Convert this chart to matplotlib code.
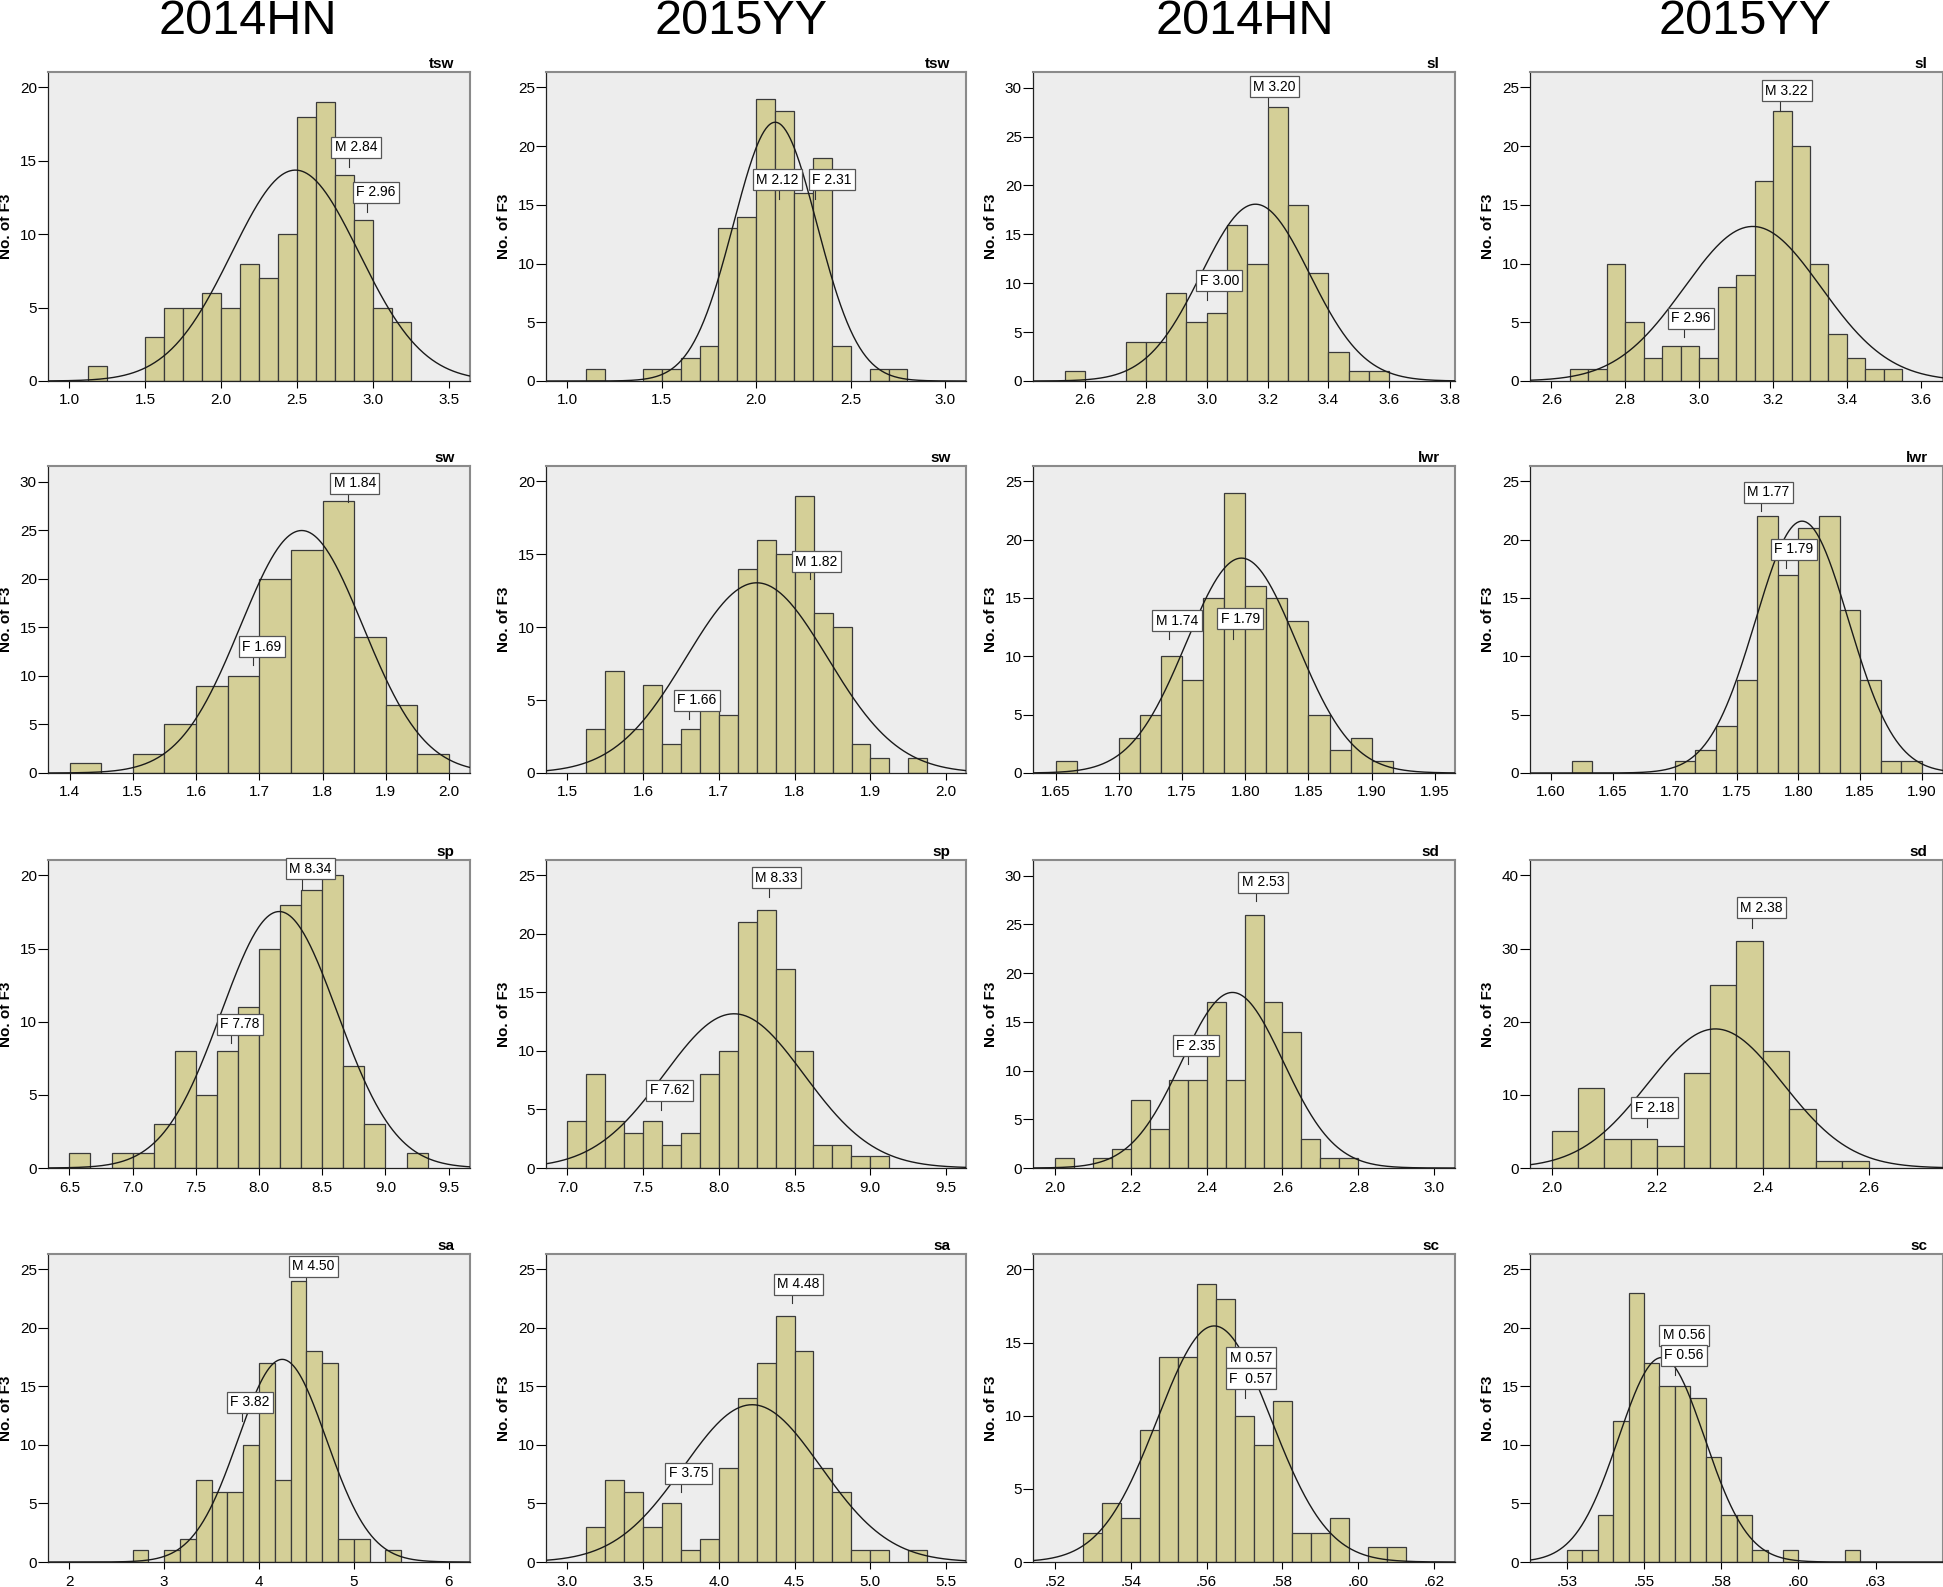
import numpy as np
import matplotlib.pyplot as plt

plt.rcParams['font.family'] = ['Liberation Sans', 'DejaVu Sans']

# ---------------- data ----------------
sites = ['2014HN', '2015YY', '2014HN', '2015YY']
titles = ['tsw', 'tsw', 'sl', 'sl',
          'sw', 'sw', 'lwr', 'lwr',
          'sp', 'sp', 'sd', 'sd',
          'sa', 'sa', 'sc', 'sc']

# bin counts (No. of F3), one list per panel
hn_tsw = [1, 0, 0, 3, 5, 5, 6, 5, 8, 7, 10, 18, 19, 14, 11, 5, 4]
yy_tsw = [1, 0, 0, 1, 1, 2, 3, 13, 14, 24, 23, 16, 19, 3, 0, 1, 1]
hn_sl = [1, 0, 0, 4, 4, 9, 6, 7, 16, 12, 28, 18, 11, 3, 1, 1]
yy_sl = [1, 1, 10, 5, 2, 3, 3, 2, 8, 9, 17, 23, 20, 10, 4, 2, 1, 1]
hn_sw = [1, 0, 2, 5, 9, 10, 20, 23, 28, 14, 7, 2]
yy_sw = [3, 7, 3, 6, 2, 3, 5, 4, 14, 16, 15, 19, 11, 10, 2, 1, 0, 1]
hn_lwr = [1, 0, 0, 3, 5, 10, 8, 15, 24, 16, 15, 13, 5, 2, 3, 1]
yy_lwr = [1, 0, 0, 0, 0, 1, 2, 4, 8, 22, 17, 21, 22, 14, 8, 1, 1]
hn_sp = [1, 0, 1, 1, 3, 8, 5, 8, 11, 15, 18, 19, 20, 7, 3, 0, 1]
yy_sp = [4, 8, 4, 3, 4, 2, 3, 8, 10, 21, 22, 17, 10, 2, 2, 1, 1]
hn_sd = [1, 0, 1, 2, 7, 4, 9, 9, 17, 9, 26, 17, 14, 3, 1, 1]
yy_sd = [5, 11, 4, 4, 3, 13, 25, 31, 16, 8, 1, 1]
hn_sa = [1, 0, 1, 2, 7, 6, 6, 10, 17, 7, 24, 18, 17, 2, 2, 0, 1]
yy_sa = [3, 7, 6, 3, 5, 1, 2, 8, 14, 17, 21, 18, 8, 6, 1, 1, 0, 1]
hn_sc = [2, 4, 3, 9, 14, 14, 19, 18, 10, 8, 11, 2, 2, 3, 0, 1, 1]
yy_sc = [1, 1, 4, 12, 23, 17, 15, 15, 14, 9, 4, 4, 1, 0, 1, 0, 0, 0, 1]

counts = [hn_tsw, yy_tsw, hn_sl, yy_sl,
          hn_sw, yy_sw, hn_lwr, yy_lwr,
          hn_sp, yy_sp, hn_sd, yy_sd,
          hn_sa, yy_sa, hn_sc, yy_sc]

bin_start = [1.125, 1.1, 2.5333, 2.65,
             1.40, 1.525, 1.65, 1.61667,
             6.5, 7.0, 2.0, 2.0,
             2.66667, 3.125, 0.5275, 0.525]
bin_width = [0.125, 0.1, 0.06667, 0.05,
             0.05, 0.025, 0.016667, 0.016667,
             0.16667, 0.125, 0.05, 0.05,
             0.16667, 0.125, 0.005, 0.005]

# normal curve parameters (mean, sd)
fit_mean = [2.49, 2.10, 3.16, 3.145,
            1.767, 1.75, 1.797, 1.803,
            8.16, 8.10, 2.468, 2.31,
            4.245, 4.22, 0.562, 0.5557]
fit_sd = [0.42, 0.221, 0.178, 0.185,
          0.0967, 0.0933, 0.0437, 0.0376,
          0.459, 0.462, 0.134, 0.128,
          0.465, 0.453, 0.01496, 0.01394]

# parent values marked on each panel
male_mean = [2.84, 2.12, 3.20, 3.22,
             1.84, 1.82, 1.74, 1.77,
             8.34, 8.33, 2.53, 2.38,
             4.50, 4.48, 0.57, 0.56]
female_mean = [2.96, 2.31, 3.00, 2.96,
               1.69, 1.66, 1.79, 1.79,
               7.78, 7.62, 2.35, 2.18,
               3.82, 3.75, 0.57, 0.56]
male_labels = ['M 2.84', 'M 2.12', 'M 3.20', 'M 3.22',
               'M 1.84', 'M 1.82', 'M 1.74', 'M 1.77',
               'M 8.34', 'M 8.33', 'M 2.53', 'M 2.38',
               'M 4.50', 'M 4.48', 'M 0.57', 'M 0.56']
female_labels = ['F 2.96', 'F 2.31', 'F 3.00', 'F 2.96',
                 'F 1.69', 'F 1.66', 'F 1.79', 'F 1.79',
                 'F 7.78', 'F 7.62', 'F 2.35', 'F 2.18',
                 'F 3.82', 'F 3.75', 'F  0.57', 'F 0.56']

# ---------------- layout ----------------
xlims = [(0.86, 3.64), (0.887, 3.11), (2.429, 3.816), (2.542, 3.66),
         (1.366, 2.033), (1.472, 2.026), (1.632, 1.966), (1.583, 1.917),
         (6.331, 9.669), (6.859, 9.632), (1.942, 3.055), (1.959, 2.741),
         (1.775, 6.225), (2.859, 5.632), (0.5142, 0.6255), (0.5131, 0.6468)]
ytop = [21.05, 26.3, 31.6, 26.3,
        31.6, 21.05, 26.3, 26.3,
        21.05, 26.3, 31.6, 42.1,
        26.3, 26.3, 21.05, 26.3]
ytick_max = [20, 25, 30, 25, 30, 20, 25, 25, 20, 25, 30, 40, 25, 25, 20, 25]
ytick_step = [5, 5, 5, 5, 5, 5, 5, 5, 5, 5, 5, 10, 5, 5, 5, 5]

xtick_vals = [
    [1.0, 1.5, 2.0, 2.5, 3.0, 3.5], [1.0, 1.5, 2.0, 2.5, 3.0],
    [2.6, 2.8, 3.0, 3.2, 3.4, 3.6, 3.8], [2.6, 2.8, 3.0, 3.2, 3.4, 3.6],
    [1.4, 1.5, 1.6, 1.7, 1.8, 1.9, 2.0], [1.5, 1.6, 1.7, 1.8, 1.9, 2.0],
    [1.65, 1.70, 1.75, 1.80, 1.85, 1.90, 1.95], [1.60, 1.65, 1.70, 1.75, 1.80, 1.85, 1.90],
    [6.5, 7.0, 7.5, 8.0, 8.5, 9.0, 9.5], [7.0, 7.5, 8.0, 8.5, 9.0, 9.5],
    [2.0, 2.2, 2.4, 2.6, 2.8, 3.0], [2.0, 2.2, 2.4, 2.6],
    [2, 3, 4, 5, 6], [3.0, 3.5, 4.0, 4.5, 5.0, 5.5],
    [0.52, 0.54, 0.56, 0.58, 0.60, 0.62], [0.525, 0.55, 0.575, 0.60, 0.625],
]
xtick_text = [
    ['1.0', '1.5', '2.0', '2.5', '3.0', '3.5'], ['1.0', '1.5', '2.0', '2.5', '3.0'],
    ['2.6', '2.8', '3.0', '3.2', '3.4', '3.6', '3.8'], ['2.6', '2.8', '3.0', '3.2', '3.4', '3.6'],
    ['1.4', '1.5', '1.6', '1.7', '1.8', '1.9', '2.0'], ['1.5', '1.6', '1.7', '1.8', '1.9', '2.0'],
    ['1.65', '1.70', '1.75', '1.80', '1.85', '1.90', '1.95'],
    ['1.60', '1.65', '1.70', '1.75', '1.80', '1.85', '1.90'],
    ['6.5', '7.0', '7.5', '8.0', '8.5', '9.0', '9.5'], ['7.0', '7.5', '8.0', '8.5', '9.0', '9.5'],
    ['2.0', '2.2', '2.4', '2.6', '2.8', '3.0'], ['2.0', '2.2', '2.4', '2.6'],
    ['2', '3', '4', '5', '6'], ['3.0', '3.5', '4.0', '4.5', '5.0', '5.5'],
    ['.52', '.54', '.56', '.58', '.60', '.62'], ['.53', '.55', '.58', '.60', '.63'],
]

# label boxes: (line tip y, box centre x, box bottom y)
male_ann = [(14.6, 2.89, 15.45), (15.5, 2.113, 16.55), (28.1, 3.223, 29.4), (23.0, 3.237, 24.1),
            (27.9, 1.851, 29.1), (13.27, 1.829, 14.0), (11.46, 1.746, 12.46), (22.47, 1.7756, 23.46),
            (19.1, 8.407, 19.98), (23.1, 8.38, 24.2), (27.4, 2.549, 28.6), (32.85, 2.397, 34.6),
            (24.0, 4.576, 24.66), (22.1, 4.527, 23.1), (12.04, 0.5717, 13.47), (17.04, 0.563, 18.77)]
female_ann = [(11.54, 3.02, 12.38), (15.5, 2.40, 16.55), (8.26, 3.041, 9.56), (3.75, 2.978, 4.75),
              (11.1, 1.704, 12.3), (3.7, 1.671, 4.5), (11.5, 1.796, 12.6), (17.58, 1.7965, 18.57),
              (8.53, 7.85, 9.33), (4.98, 7.675, 6.06), (10.65, 2.372, 11.84), (5.55, 2.195, 7.28),
              (12.0, 3.907, 13.05), (5.94, 3.80, 6.97), (11.19, 0.5717, 12.04), (15.98, 0.563, 17.04)]

W, H = 1943, 1587
col_left = [48, 546, 1033, 1530]
col_right = [470, 966, 1455, 1943]
row_top = [72, 466, 860, 1254]
row_bottom = [381, 773, 1168, 1562]
header_x = [248, 741, 1245, 1745]

BAR = '#D4CF97'

fig = plt.figure(figsize=(W / 100, H / 100), dpi=100)

for c, s in enumerate(sites):
    fig.text(header_x[c] / W, 1 - 21 / H, s, ha='center', va='center', fontsize=35)

for i in range(16):
    r, c = divmod(i, 4)
    ax = fig.add_axes([col_left[c] / W, 1 - row_bottom[r] / H,
                       (col_right[c] - col_left[c]) / W, (row_bottom[r] - row_top[r]) / H])
    ax.set_facecolor('#EDEDED')

    cnt = np.array(counts[i])
    edges = bin_start[i] + bin_width[i] * np.arange(len(cnt))
    keep = cnt > 0
    ax.bar(edges[keep], cnt[keep], width=bin_width[i], align='edge',
           color=BAR, edgecolor='#3a3a3a', linewidth=0.9, zorder=2)

    # normal curve scaled to counts
    x = np.linspace(xlims[i][0], xlims[i][1], 400)
    n = cnt.sum()
    y = n * bin_width[i] / (fit_sd[i] * np.sqrt(2 * np.pi)) * \
        np.exp(-0.5 * ((x - fit_mean[i]) / fit_sd[i]) ** 2)
    ax.plot(x, y, color='#1a1a1a', lw=1.0, zorder=3)

    for val, lab, (tip, bx, by) in [(male_mean[i], male_labels[i], male_ann[i]),
                                    (female_mean[i], female_labels[i], female_ann[i])]:
        ax.plot([val, val], [tip, by], color='#333333', lw=0.8, zorder=4)
        ax.text(bx, by, lab, ha='center', va='bottom', fontsize=10, zorder=5,
                bbox=dict(boxstyle='square,pad=0.25', fc='white', ec='#555555', lw=0.9))

    ax.set_xlim(xlims[i])
    ax.set_ylim(0, ytop[i])
    ax.set_yticks(np.arange(0, ytick_max[i] + 1, ytick_step[i]))
    ax.set_xticks(xtick_vals[i])
    ax.set_xticklabels(xtick_text[i])
    ax.tick_params(axis='y', direction='out', length=7, width=0.8, pad=1, labelsize=11)
    ax.tick_params(axis='x', direction='out', length=5, width=0.8, pad=4, labelsize=11)
    for sp in ['top', 'right']:
        ax.spines[sp].set_color('#8a8a8a')
        ax.spines[sp].set_linewidth(1.5)
    for sp in ['left', 'bottom']:
        ax.spines[sp].set_color('#222222')
        ax.spines[sp].set_linewidth(0.9)

    ax.set_ylabel('No. of F3', fontsize=11, fontweight='bold', labelpad=5)
    ax.annotate(titles[i], xy=(1, 1), xycoords='axes fraction', xytext=(-11, 3),
                textcoords='offset points', ha='right', va='baseline',
                fontsize=11, fontweight='bold')

fig.savefig('out.png', dpi=100)
